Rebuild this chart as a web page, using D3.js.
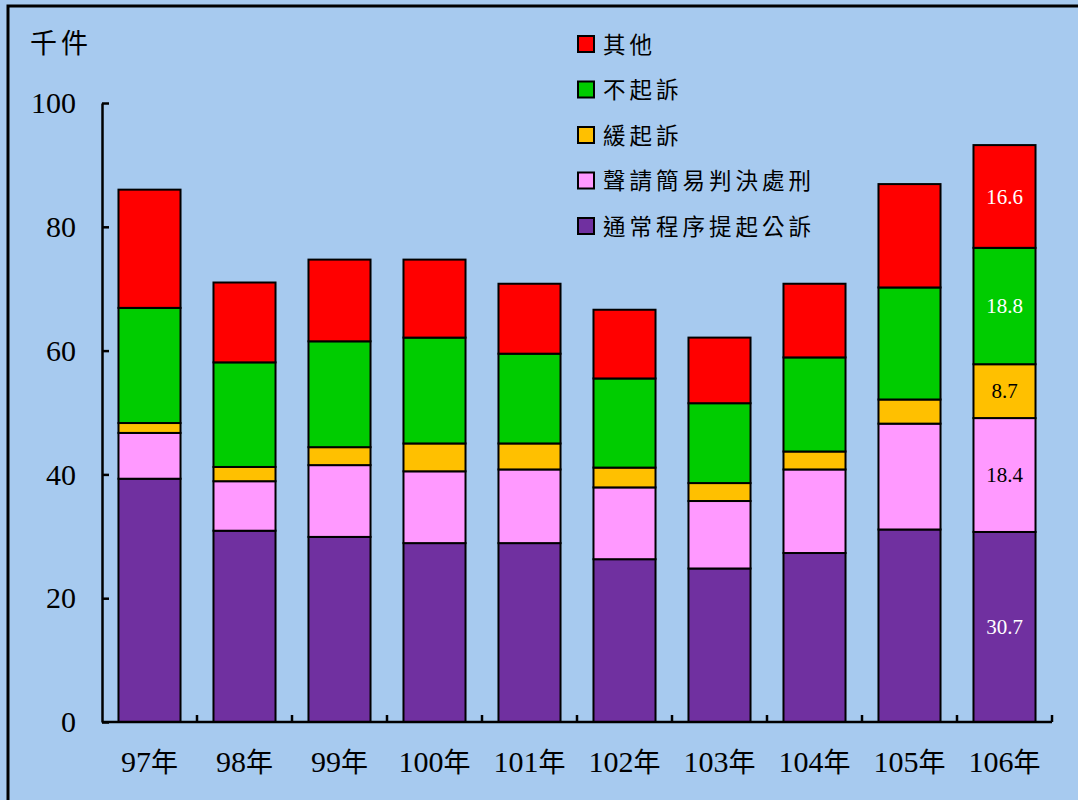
<!DOCTYPE html>
<html>
<head>
<meta charset="utf-8">
<script src="https://cdn.jsdelivr.net/npm/d3@7"></script>
<style>
  body { margin: 0; background: #fff; }
  svg { display: block; }
  .tick text { font-family: "Liberation Serif", serif; }
</style>
</head>
<body>
<svg id="chart"></svg>
<script>
// categories (years) and series, thousand cases
const years = ["97年", "98年", "99年", "100年", "101年", "102年", "103年", "104年", "105年", "106年"];
const seriesNames = ["通常程序提起公訴", "聲請簡易判決處刑", "緩起訴", "不起訴", "其他"];
const seriesColors = ["#7030A0", "#FF99FF", "#FFC000", "#00CC00", "#FF0000"];

const prosecution = [39.3, 30.9, 29.9, 28.9, 28.9, 26.3, 24.8, 27.3, 31.1, 30.7];
const summary = [7.4, 8.0, 11.6, 11.6, 11.9, 11.6, 10.9, 13.5, 17.1, 18.4];
const deferred = [1.6, 2.3, 2.9, 4.5, 4.2, 3.2, 2.9, 2.9, 3.9, 8.7];
const notProsecuted = [18.6, 16.9, 17.1, 17.1, 14.5, 14.4, 12.9, 15.2, 18.1, 18.8];
const others = [19.1, 12.9, 13.2, 12.6, 11.3, 11.1, 10.6, 11.9, 16.7, 16.6];

const yTicks = [0, 20, 40, 60, 80, 100];
const labelledYear = "106年";

const W = 1078, H = 800;
const margin = { top: 103, right: 26, bottom: 78, left: 102 };
const width = W - margin.left - margin.right;
const height = H - margin.top - margin.bottom;

const svg = d3.select("#chart").attr("width", W).attr("height", H);

// background + frame
svg.append("rect").attr("width", W).attr("height", H).attr("fill", "#A7CAEF");
svg.append("path")
  .attr("d", `M8,${H + 5} L8,6 L${W + 5},6`)
  .attr("fill", "none").attr("stroke", "#000").attr("stroke-width", 3);

const table = years.map((y, i) => ({
  year: y,
  [seriesNames[0]]: prosecution[i],
  [seriesNames[1]]: summary[i],
  [seriesNames[2]]: deferred[i],
  [seriesNames[3]]: notProsecuted[i],
  [seriesNames[4]]: others[i]
}));

const stacked = d3.stack().keys(seriesNames)(table);

const xScale = d3.scaleBand().domain(years).range([0, width]).paddingInner(0.347).paddingOuter(0.1735);
const yScale = d3.scaleLinear().domain([0, 100]).range([height, 0]);
const color = d3.scaleOrdinal().domain(seriesNames).range(seriesColors);

const chart = svg.append("g").attr("transform", `translate(${margin.left},${margin.top})`);

// bars
const layer = chart.selectAll(".layer")
  .data(stacked)
  .join("g")
  .attr("class", "layer")
  .attr("fill", d => color(d.key));

layer.selectAll("rect")
  .data(d => d)
  .join("rect")
  .attr("x", d => xScale(d.data.year))
  .attr("y", d => yScale(d[1]))
  .attr("width", xScale.bandwidth())
  .attr("height", d => yScale(d[0]) - yScale(d[1]))
  .attr("stroke", "#000")
  .attr("stroke-width", 2);

// value labels on last bar
const labelColors = ["#fff", "#000", "#000", "#fff", "#fff"];
stacked.forEach((s, k) => {
  const d = s.find(p => p.data.year === labelledYear);
  chart.append("text")
    .attr("x", xScale(labelledYear) + xScale.bandwidth() / 2)
    .attr("y", yScale((d[0] + d[1]) / 2))
    .attr("dy", "0.35em")
    .attr("text-anchor", "middle")
    .attr("font-family", "Liberation Serif, serif")
    .attr("font-size", 21)
    .attr("fill", labelColors[k])
    .text(d.data[s.key].toFixed(1));
});

// y axis: ticks point inward
const yAxis = d3.axisLeft(yScale).tickValues(yTicks).tickSize(-7).tickPadding(35).tickSizeOuter(0);
const yAxisG = chart.append("g").call(yAxis);
yAxisG.select(".domain").attr("stroke-width", 2.5);
yAxisG.selectAll(".tick line").attr("stroke-width", 2.5);
yAxisG.selectAll(".tick text").attr("font-size", 30).attr("fill", "#000").attr("text-anchor", "end").attr("dx", "9");

// x axis: baseline with separators between categories
const xAxisG = chart.append("g").attr("transform", `translate(0,${height})`);
xAxisG.append("line").attr("x1", 0).attr("x2", width).attr("stroke", "#000").attr("stroke-width", 2.5);
const step = xScale.step();
d3.range(1, years.length + 1).forEach(i => {
  xAxisG.append("line")
    .attr("x1", i * step).attr("x2", i * step)
    .attr("y1", 0).attr("y2", -7)
    .attr("stroke", "#000").attr("stroke-width", 2.5);
});
xAxisG.selectAll(".xlabel")
  .data(years)
  .join("text")
  .attr("class", "xlabel")
  .attr("x", d => xScale(d) + xScale.bandwidth() / 2)
  .attr("y", 50)
  .attr("text-anchor", "middle")
  .attr("font-size", 30)
  .each(function (d) {
    const num = d.replace("年", "");
    const t = d3.select(this);
    t.append("tspan").attr("font-family", "Liberation Serif, serif").text(num);
    t.append("tspan").attr("font-family", "Noto Sans CJK TC, sans-serif").attr("font-size", 27).text("年");
  });

// unit
svg.append("text")
  .attr("x", 30).attr("y", 53)
  .attr("font-family", "Noto Sans CJK TC, sans-serif")
  .attr("font-size", 27)
  .attr("letter-spacing", 4)
  .text("千件");

// legend (top to bottom: reverse stack order)
const legend = svg.append("g").attr("transform", "translate(578,36)");
const legendItems = seriesNames.slice().reverse();
const li = legend.selectAll(".li")
  .data(legendItems)
  .join("g")
  .attr("class", "li")
  .attr("transform", (d, i) => `translate(0,${i * 45.5})`);
li.append("rect")
  .attr("width", 16).attr("height", 16)
  .attr("fill", d => color(d))
  .attr("stroke", "#000").attr("stroke-width", 2);
li.append("text")
  .attr("x", 25).attr("y", 8).attr("dy", "0.38em")
  .attr("font-family", "Noto Sans CJK TC, sans-serif")
  .attr("font-size", 22.5)
  .attr("letter-spacing", 4)
  .text(d => d);
</script>
</body>
</html>
